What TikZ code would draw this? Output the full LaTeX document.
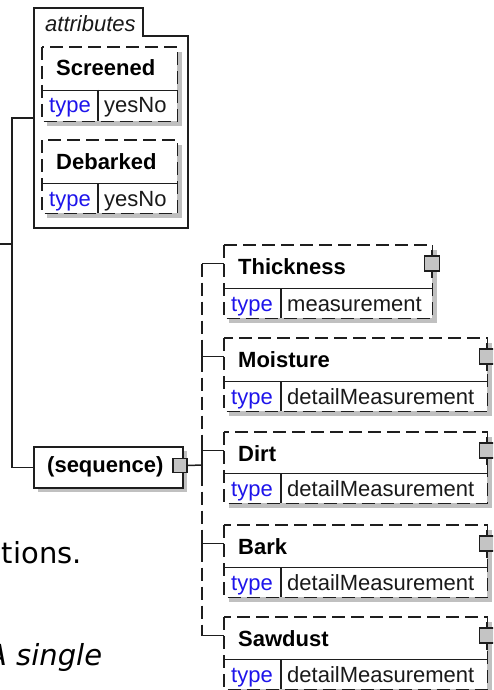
\documentclass[tikz,border=0pt]{standalone}
\usepackage{fontspec}
\setmainfont{Liberation Sans}
\newfontfamily\docfont{DejaVu Sans}
\definecolor{linec}{RGB}{30,30,30}
\definecolor{shadc}{RGB}{192,192,192}
\definecolor{typec}{RGB}{30,20,235}
\definecolor{sqc}{RGB}{196,196,196}

% #1 name, #2 L, #3 T, #4 R, #5 divider y, #6 B, #7 type divider x, #8 title, #9 value
\newcommand{\xelem}[9]{%
  \pgfmathsetmacro{\xeW}{#4-#2}%
  \pgfmathsetmacro{\xeN}{#5-#3}%
  \pgfmathsetmacro{\xeR}{#6-#5}%
  \fill[shadc] ({#2+5},{#3+5}) rectangle ({#4+5},{#6+5});
  \node[rowbox, fill=white, minimum width=\xeW pt, minimum height=\xeN pt] (#1) at (#2,#3) {};
  \node[rowbox, fill=white, minimum width=\xeW pt, minimum height=\xeR pt] (#1-row) at (#2,#5) {};
  \draw[dline] (#1.north west) rectangle (#1-row.south east);
  \draw[sline] (#1.south west) -- (#1.south east);
  \draw[sline] (#7,#5) -- (#7,#6);
  \coordinate (#1-in) at (#2,{#3+18.5});
  \node[namelbl] (#1-name) at ({#2+14},{#3+29}) {#8};
  \node[typelbl] (#1-type) at ({#2+7},{#5+23}) {type};
  \node[lbl] (#1-val) at ({#7+6},{#5+23}) {#9};
}
% #1 name, #2 R, #3 T
\newcommand{\xpin}[3]{%
  \draw[sline] (#2,{#3+5}) -- (#2,{#3+33});
  \node[pin] (#1-pin) at (#2,{#3+18.5}) {};
}

\begin{document}
\begin{tikzpicture}[x=1pt,y=-1pt,
  sline/.style={draw=linec, line width=1.5pt},
  dline/.style={draw=linec, line width=1.5pt, dash pattern=on 13pt off 6pt},
  lbl/.style={inner sep=0pt, anchor=base west, text=black!90, font=\fontsize{22}{26}\selectfont},
  namelbl/.style={lbl, text=black, font=\fontsize{22}{26}\selectfont\bfseries},
  typelbl/.style={lbl, text=typec},
  rowbox/.style={inner sep=0pt, anchor=north west},
  pin/.style={draw=linec, line width=1.5pt, fill=sqc, minimum size=15pt, inner sep=0pt},
  bodytxt/.style={inner sep=0pt, anchor=base west, text=black, font=\docfont\fontsize{29}{34}\selectfont}
]
\useasboundingbox (0,0) rectangle (493,690);
\clip (0,0) rectangle (493,690);

% background text fragments
\node[bodytxt] (bodyA) at (-16,563) {ations.};
\node[bodytxt, font=\docfont\fontsize{29}{34}\selectfont\itshape] (bodyB) at (-13,665) {A single};

% attributes frame
\draw[sline, fill=white] (34,8) -- (143,8) -- (143,36) -- (188,36) -- (188,228) -- (34,228) -- cycle;
\node[rowbox, minimum width=154pt, minimum height=220pt] (attrs) at (34,8) {};
\node[lbl, font=\fontsize{22}{26}\selectfont\itshape] (attrtxt) at (45,32) {attributes};

\xelem{scr}{42}{47}{177}{90}{121}{98}{Screened}{yesNo}
\xelem{deb}{42}{140}{177}{183}{213}{98}{Debarked}{yesNo}

% sequence compositor
\fill[shadc] (38,451) rectangle (187,492);
\node[rowbox, draw=linec, line width=1.5pt, fill=white, minimum width=149pt, minimum height=41pt] (seq) at (33,446) {};
\node[namelbl] (seqtxt) at (47,472) {(sequence)};
\node[pin, minimum size=14pt] (seqpin) at (180,465.5) {};

% child elements
\xelem{thick}{224}{245}{432}{288}{318}{281}{Thickness}{measurement}
\xpin{thick}{432}{245}
\xelem{moist}{224}{338}{487}{381}{411}{281}{Moisture}{detailMeasurement}
\xpin{moist}{487}{338}
\xelem{dirt}{224}{432}{487}{473}{503}{281}{Dirt}{detailMeasurement}
\xpin{dirt}{487}{432}
\xelem{bark}{224}{525}{487}{567}{597}{281}{Bark}{detailMeasurement}
\xpin{bark}{487}{525}
\xelem{saw}{224}{617}{487}{659}{689}{281}{Sawdust}{detailMeasurement}
\xpin{saw}{487}{617}

% left connectors
\coordinate (root) at (0,244);
\coordinate (lbus) at (12,244);
\draw[sline] (root) -- (lbus);
\draw[sline] (attrs.west) -- (attrs.west -| lbus) -- (seq.west -| lbus) -- (seq.west);

% right connectors
\coordinate (bus) at (202,465);
\draw[dline] (thick-in -| bus) -- (saw-in -| bus);
\draw[sline] (seqpin.east) -- (bus);
\draw[sline] ([yshift=-12pt]bus) -- ([yshift=12pt]bus);
\foreach \e in {thick,moist,dirt,bark,saw}{
  \draw[sline] (\e-in) -- (\e-in -| bus);
}
\draw[sline] (thick-in -| bus) -- ([yshift=-8pt]thick-in -| bus);
\draw[sline] (saw-in -| bus) -- ([yshift=8pt]saw-in -| bus);
\foreach \e in {moist,dirt,bark}{
  \draw[sline] ([yshift=7pt]\e-in -| bus) -- ([yshift=-7pt]\e-in -| bus);
}
\end{tikzpicture}
\end{document}
